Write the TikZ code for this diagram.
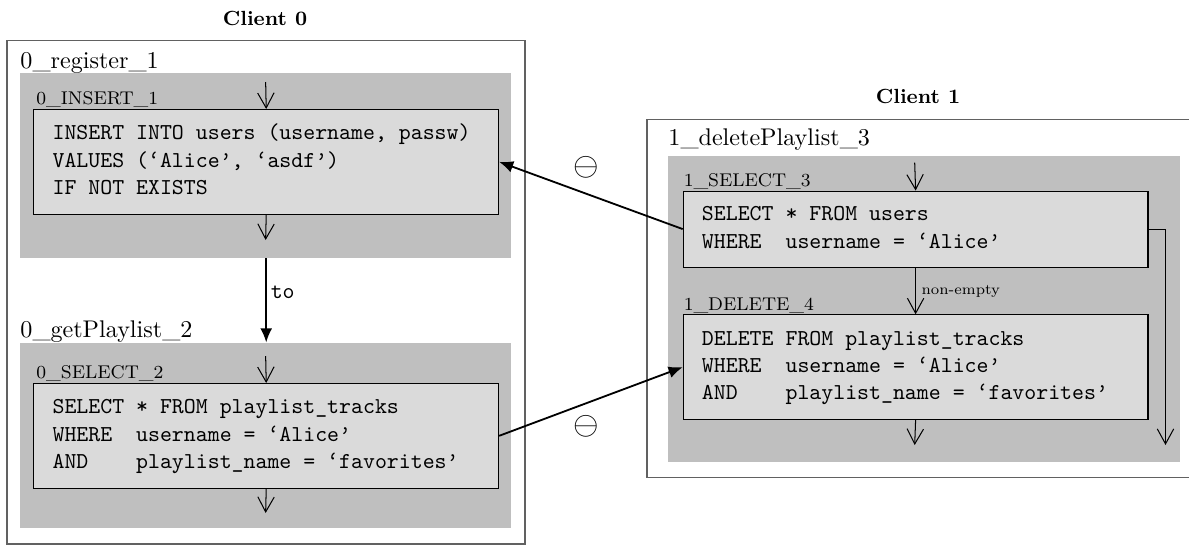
\documentclass[tikz,border=0pt]{standalone}
\usepackage{fontspec}
\usetikzlibrary{arrows.meta,fit}

% one unit of the picture grid
\newcommand{\pxu}{0.4396pt}

% a blank one character cell wide, so SQL columns line up
\newcommand{\sqsp}{\hphantom{0}}

\definecolor{groupfill}{gray}{0.75}
\definecolor{stmtfill}{gray}{0.855}
\definecolor{clientline}{gray}{0.38}

\tikzset{
  clientframe/.style={draw=clientline, line width=0.6pt, inner sep=0pt},
  clienttitle/.style={font=\fontsize{9}{11}\selectfont\bfseries, inner sep=0pt, anchor=base},
  txgroup/.style={fill=groupfill, inner sep=0pt},
  grouplabel/.style={font=\fontsize{10.6}{13}\selectfont, inner sep=0pt, anchor=base west},
  stmtlabel/.style={font=\fontsize{8.1}{10}\selectfont, inner sep=0pt, anchor=base west},
  stmt/.style={draw=black, fill=stmtfill, line width=0.5pt, anchor=north west,
    font=\ttfamily, align=left, inner xsep=8.22pt,
    inner ysep=0pt, text width=187.84pt},
  tall/.style={minimum height=45.94pt},
  short/.style={minimum height=33.41pt},
  flow/.style={line width=0.45pt, -{Straight Barb[length=6.6pt,width=7.2pt]}},
  link/.style={line width=0.8pt, -{Latex[length=6.2pt,width=5.2pt]}},
  conflict/.style={font=\fontsize{15.5}{18}\selectfont, inner sep=0pt},
  edgelabel/.style={inner sep=0pt}
}

\begin{document}
\begin{tikzpicture}[x=\pxu, y=-\pxu]
\useasboundingbox (0,0) rectangle (1189,546);

% ---------------- Client 0 ----------------
\node[clienttitle] (t0) at (265,25) {Client 0};
\node[clientframe, fit={(7,40.7) (525,544)}] (c0) {};

\node[txgroup, fit={(20,72.7) (511,257.7)}] (reg) {};
\node[grouplabel] (regl) at (20,68) {0\_register\_1};
\node[stmt, tall] (ins) at (33.3,109)
  {\strut INSERT\sqsp INTO\sqsp users\sqsp (username,\sqsp passw)\\
   VALUES\sqsp (‘Alice’,\sqsp ‘asdf’)\\
   IF\sqsp NOT\sqsp EXISTS\strut};
\node[stmtlabel] (insl) at (36,104) {0\_INSERT\_1};
\coordinate (insin) at (265.65,82);
\coordinate (insout) at (265.65,240);
\draw[flow] (insin) -- (ins.north);
\draw[flow] (ins.south) -- (insout);

\node[txgroup, fit={(20,343) (511,528)}] (get) {};
\node[grouplabel] (getl) at (20,337) {0\_getPlaylist\_2};
\node[stmt, tall] (sel2) at (33.3,383)
  {\strut SELECT\sqsp *\sqsp FROM\sqsp playlist\_tracks\\
   WHERE\sqsp\sqsp username\sqsp =\sqsp ‘Alice’\\
   AND\sqsp\sqsp\sqsp\sqsp playlist\_name\sqsp =\sqsp ‘favorites’\strut};
\node[stmtlabel] (sel2l) at (36,378) {0\_SELECT\_2};
\coordinate (sel2in) at (265.65,356);
\coordinate (sel2out) at (265.65,513);
\draw[flow] (sel2in) -- (sel2.north);
\draw[flow] (sel2.south) -- (sel2out);

\draw[link] (reg.south -| ins.south) -- node[pos=0.4, right=1.6pt, edgelabel]
  {\ttfamily to} (get.north -| ins.south);

% ---------------- Client 1 ----------------
\node[clienttitle] (t1) at (918,103.5) {Client 1};
\node[clientframe, fit={(647,119.3) (1190,477.3)}] (c1) {};

\node[txgroup, fit={(668.3,156) (1180,461.7)}] (del3) {};
\node[grouplabel] (del3l) at (668,145.5) {1\_deletePlaylist\_3};
\node[stmt, short] (sel3) at (682.7,190.5)
  {\strut SELECT\sqsp *\sqsp FROM\sqsp users\\
   WHERE\sqsp\sqsp username\sqsp =\sqsp ‘Alice’\strut};
\node[stmtlabel] (sel3l) at (683.3,186) {1\_SELECT\_3};
\node[stmt, tall] (del) at (682.7,314.3)
  {\strut DELETE\sqsp FROM\sqsp playlist\_tracks\\
   WHERE\sqsp\sqsp username\sqsp =\sqsp ‘Alice’\\
   AND\sqsp\sqsp\sqsp\sqsp playlist\_name\sqsp =\sqsp ‘favorites’\strut};
\node[stmtlabel] (dell) at (683.3,310.7) {1\_DELETE\_4};

\coordinate (sel3in) at (914.7,162.7);
\coordinate (delout) at (914.7,445);
\coordinate (skipturn) at (1165.5,228.5);
\coordinate (skipout) at (1165.5,445);
\draw[flow] (sel3in) -- (sel3.north);
\draw[flow] (sel3.south) -- node[midway, right=2.4pt, edgelabel,
  font=\fontsize{6.5}{8}\selectfont] {non-empty} (del.north);
\draw[flow] (del.south) -- (delout);
\draw[flow] (sel3.east) -- (sel3.east -| skipturn) -- (skipout);

% ---------------- conflicts between clients ----------------
\draw[link] (sel3.west) -- (ins.east);
\draw[link] (sel2.east) -- (del.west);
\node[conflict] (cf1) at (586,167.7) {$\ominus$};
\node[conflict] (cf2) at (586,426.7) {$\ominus$};
\end{tikzpicture}
\end{document}
